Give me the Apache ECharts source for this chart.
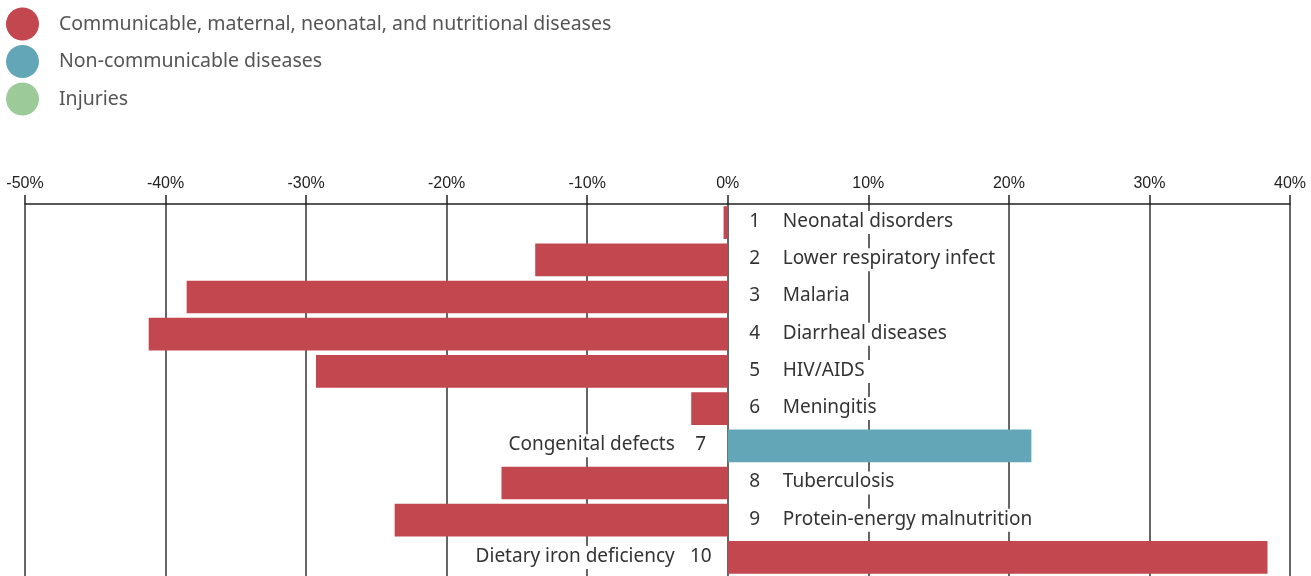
<!DOCTYPE html>
<html>
<head>
<meta charset="utf-8">
<script src="https://cdn.jsdelivr.net/npm/echarts@6/dist/echarts.min.js"></script>
<style>
  html, body { margin: 0; padding: 0; background: #fff; }
  #chart { width: 1311px; height: 576px; }
</style>
</head>
<body>
<div id="chart"></div>
<script>
// causes ranked 1..10, change in %
const categories = ['Neonatal disorders', 'Lower respiratory infect', 'Malaria', 'Diarrheal diseases',
  'HIV/AIDS', 'Meningitis', 'Congenital defects', 'Tuberculosis', 'Protein-energy malnutrition',
  'Dietary iron deficiency'];
const communicable = [-0.3, -13.7, -38.5, -41.2, -29.3, -2.6, null, -16.1, -23.7, 38.4];
const nonCommunicable = [null, null, null, null, null, null, 21.6, null, null, null];
const injuries = [];
const groupNames = ['Communicable, maternal, neonatal, and nutritional diseases',
  'Non-communicable diseases', 'Injuries'];
const colors = ['#C2474F', '#62A6B8', '#9CCB99'];

const chart = echarts.init(document.getElementById('chart'));

const FONT = 'Noto Sans';
const FS = 19;

// label sits on the other side of zero from the bar
const toItems = (arr) => arr.map((v) => {
  if (v == null) return null;
  const right = v < 0;
  return {
    value: v,
    label: {
      position: right ? 'right' : 'left',
      padding: right ? [1, 12, 3, 2] : [1, 2, 3, 10],
    },
  };
});

const labelFmt = (p) => {
  const rank = p.dataIndex + 1;
  const name = categories[p.dataIndex];
  if (p.value < 0) return '{n|' + rank + '}{tr|' + name + '}';
  return '{tl|' + name + '}{n|' + rank + '}';
};

const txt = { fontFamily: FONT, fontSize: FS, color: '#333' };
const barLabel = {
  show: true,
  distance: 13,
  color: '#333',
  fontFamily: FONT,
  fontSize: FS,
  backgroundColor: '#fff',
  formatter: labelFmt,
  rich: {
    n: Object.assign({ width: 24, align: 'center' }, txt),
    tr: Object.assign({ padding: [0, 0, 0, 16] }, txt),
    tl: Object.assign({ padding: [0, 14, 0, 0] }, txt),
  },
};

let option = {
  animation: false,
  legend: {
    orient: 'vertical',
    left: 6,
    top: 7.5,
    padding: 0,
    icon: 'circle',
    itemWidth: 33,
    itemHeight: 33,
    itemGap: 4.5,
    textStyle: { color: '#555', fontFamily: FONT, fontSize: 19.5, padding: [0, 0, 0, 15] },
    data: groupNames,
    selectedMode: false,
  },
  grid: { left: 25, right: 21, top: 204, height: 376 },
  xAxis: {
    type: 'value',
    position: 'top',
    min: -50,
    max: 40,
    interval: 10,
    axisLine: { show: true, lineStyle: { color: '#222', width: 1.5 } },
    axisTick: { show: true, length: 9, lineStyle: { color: '#222', width: 1.5 } },
    axisLabel: { formatter: '{value}%', color: '#222', fontFamily: 'Liberation Sans', fontSize: 16, margin: 12 },
    splitLine: { show: true, lineStyle: { color: '#333', width: 1.5 } },
  },
  yAxis: {
    type: 'category',
    inverse: true,
    data: categories,
    show: false,
  },
  series: [
    {
      name: groupNames[0],
      type: 'bar',
      data: toItems(communicable),
      itemStyle: { color: colors[0] },
      barGap: '-100%',
      barCategoryGap: '12%',
      label: barLabel,
    },
    {
      name: groupNames[1],
      type: 'bar',
      data: toItems(nonCommunicable),
      itemStyle: { color: colors[1] },
      barGap: '-100%',
      barCategoryGap: '12%',
      label: barLabel,
    },
    {
      name: groupNames[2],
      type: 'bar',
      data: injuries,
      itemStyle: { color: colors[2] },
      barGap: '-100%',
      barCategoryGap: '12%',
    },
  ],
};
chart.setOption(option);
</script>
</body>
</html>
